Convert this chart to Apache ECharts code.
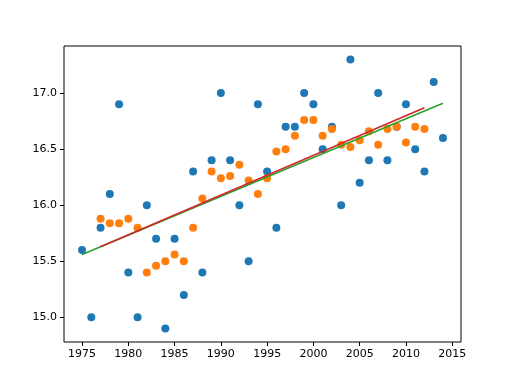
<!DOCTYPE html>
<html>
<head>
<meta charset="utf-8">
<script src="https://cdn.jsdelivr.net/npm/echarts@6/dist/echarts.min.js"></script>
<style>html,body{margin:0;padding:0;background:#fff}#c{width:512px;height:384px}</style>
</head>
<body>
<div id="c"></div>
<script>
var years = [1975,1976,1977,1978,1979,1980,1981,1982,1983,1984,1985,1986,1987,1988,1989,1990,1991,1992,1993,1994,1995,1996,1997,1998,1999,2000,2001,2002,2003,2004,2005,2006,2007,2008,2009,2010,2011,2012,2013,2014];
var rawValues = [15.6,15.0,15.8,16.1,16.9,15.4,15.0,16.0,15.7,14.9,15.7,15.2,16.3,15.4,16.4,17.0,16.4,16.0,15.5,16.9,16.3,15.8,16.7,16.7,17.0,16.9,16.5,16.7,16.0,17.3,16.2,16.4,17.0,16.4,16.7,16.9,16.5,16.3,17.1,16.6];
var smoothYears = [1977,1978,1979,1980,1981,1982,1983,1984,1985,1986,1987,1988,1989,1990,1991,1992,1993,1994,1995,1996,1997,1998,1999,2000,2001,2002,2003,2004,2005,2006,2007,2008,2009,2010,2011,2012];
var smoothValues = [15.88,15.84,15.84,15.88,15.80,15.40,15.46,15.50,15.56,15.50,15.80,16.06,16.30,16.24,16.26,16.36,16.22,16.10,16.24,16.48,16.50,16.62,16.76,16.76,16.62,16.68,16.54,16.52,16.58,16.66,16.54,16.68,16.70,16.56,16.70,16.68];
var fitAllYears = [1975, 2014];
var fitAllValues = [15.56, 16.91];
var fitSmoothYears = [1977, 2012];
var fitSmoothValues = [15.63, 16.87];
var xTicks = [1975,1980,1985,1990,1995,2000,2005,2010,2015];
var yTicks = [15.0,15.5,16.0,16.5,17.0];

function pairs(xs, ys){ return xs.map(function(x,i){ return [x, ys[i]]; }); }

var chart = echarts.init(document.getElementById('c'), null, {renderer:'canvas'});
var font = {fontFamily:'DejaVu Sans', fontSize:11, color:'#000'};
chart.setOption({
  animation:false,
  backgroundColor:'#fff',
  grid:{left:64, right:51, top:46, bottom:42, show:true, borderColor:'#000', borderWidth:1, backgroundColor:'transparent'},
  xAxis:{
    type:'value', min:1973.05, max:2015.95,
    splitLine:{show:false},
    axisLine:{show:false},
    axisTick:{show:true, length:4, lineStyle:{color:'#000', width:1}, customValues:xTicks},
    axisLabel:Object.assign({margin:7, customValues:xTicks, formatter:function(v){return String(v);}}, font)
  },
  yAxis:{
    type:'value', min:14.78, max:17.42,
    splitLine:{show:false},
    axisLine:{show:false},
    axisTick:{show:true, length:4, lineStyle:{color:'#000', width:1}, customValues:yTicks},
    axisLabel:Object.assign({margin:7, customValues:yTicks, formatter:function(v){return v.toFixed(1);}}, font)
  },
  series:[
    {type:'scatter', data:pairs(years, rawValues), symbolSize:8, itemStyle:{color:'#1f77b4', opacity:1}, z:2},
    {type:'scatter', data:pairs(smoothYears, smoothValues), symbolSize:8, itemStyle:{color:'#ff7f0e', opacity:1}, z:2},
    {type:'line', data:pairs(fitAllYears, fitAllValues), showSymbol:false, symbol:'none', lineStyle:{color:'#2ca02c', width:1.67}, z:3},
    {type:'line', data:pairs(fitSmoothYears, fitSmoothValues), showSymbol:false, symbol:'none', lineStyle:{color:'#d62728', width:1.67}, z:4}
  ]
});
</script>
</body>
</html>
